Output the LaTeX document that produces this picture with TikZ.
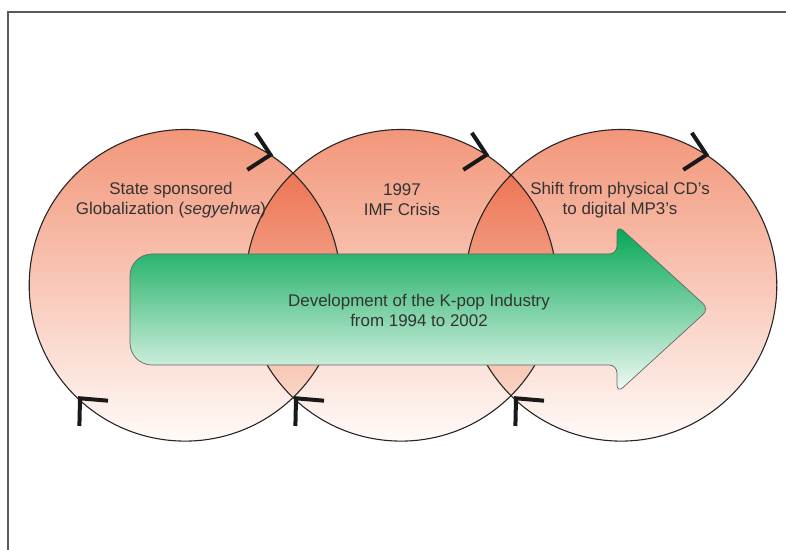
\documentclass[tikz,border=0pt]{standalone}
\usepackage{fontspec}
\setmainfont{Liberation Sans}
\usetikzlibrary{calc}

\definecolor{salmontop}{RGB}{242,150,121}
\definecolor{salmonbot}{RGB}{255,250,248}
\definecolor{lenstop}{RGB}{235,98,62}
\definecolor{lensbot}{RGB}{252,232,219}
\definecolor{greentop}{RGB}{0,166,81}
\definecolor{greenbot}{RGB}{244,251,247}
\definecolor{textgray}{RGB}{51,51,51}
\definecolor{framegray}{RGB}{90,90,90}

\newcommand{\rad}{155.8}

\begin{document}
\begin{tikzpicture}[x=1bp,y=-1bp,
    ring/.style={draw=black!85,line width=1.1bp},
    disc/.style={top color=salmontop,bottom color=salmonbot},
    lens/.style={top color=lenstop,bottom color=lensbot},
    chev/.style={line width=4bp,black!90,miter limit=10},
    txt/.style={font=\fontsize{17}{20}\selectfont,text=textgray,align=center},
    bigarrow/.style={draw=black!60,line width=0.7bp,top color=greentop,bottom color=greenbot}]
    \useasboundingbox (0,0) rectangle (786,550);
    \draw[framegray,line width=1.5bp] (8,550) -- (8,12) -- (786,12);

    \coordinate (c1) at (185,285.3);
    \coordinate (c2) at (401,285.3);
    \coordinate (c3) at (621,285.3);

    \foreach \c in {c1,c2,c3}
        \shade[disc] (\c) circle (\rad);
    \begin{scope}
        \clip (c1) circle (\rad);
        \shade[lens] (c2) circle (\rad);
    \end{scope}
    \begin{scope}
        \clip (c2) circle (\rad);
        \shade[lens] (c3) circle (\rad);
    \end{scope}
    \foreach \c in {c1,c2,c3}{
        \draw[ring] (\c) circle (\rad);
        \draw[chev] ($(\c)+(70.8,-152.5)$) -- ($(\c)+(85.5,-130.5)$) -- ($(\c)+(62.3,-115.5)$);
        \draw[chev] ($(\c)+(-77,115.4)$) -- ($(\c)+(-105,113)$) -- ($(\c)+(-105.6,140.7)$);
    }

    \draw[bigarrow] (400,254) [rounded corners=8bp] -- (617,254) -- (617,225) -- (709,309)
        -- (617,393) -- (617,365) [rounded corners=22bp] -- (130,365) -- (130,254) -- cycle;

    \node[txt] (state) at (171,200) {State sponsored\\Globalization (\textit{segyehwa})};
    \node[txt] (imf) at (402,200) {1997\\IMF Crisis};
    \node[txt] (mp3) at (620,200) {Shift from physical CD's\\to digital MP3's};
    \node[txt] (kpop) at (419,310) {Development of the K-pop Industry\\from 1994 to 2002};
\end{tikzpicture}
\end{document}
